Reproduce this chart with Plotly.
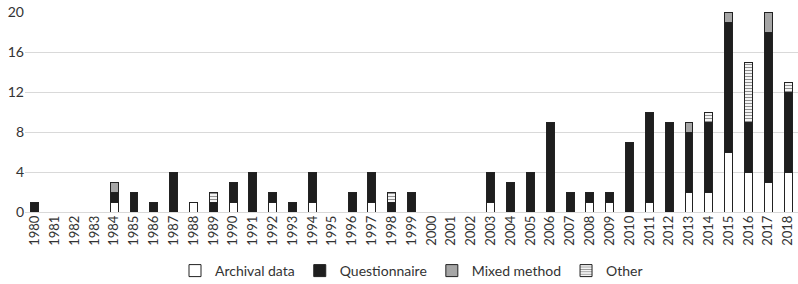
import plotly.graph_objects as go

years = [str(y) for y in range(1980, 2019)]
archival =      [0,0,0,0,1,0,0,0,1,0,1,0,1,0,1,0,0,1,0,0,0,0,0,1,0,0,0,0,1,1,0,1,0,2,2,6,4,3,4]
questionnaire = [1,0,0,0,1,2,1,4,0,1,2,4,1,1,3,0,2,3,1,2,0,0,0,3,3,4,9,2,1,1,7,9,9,6,7,13,5,15,8]
mixed =         [0,0,0,0,1,0,0,0,0,0,0,0,0,0,0,0,0,0,0,0,0,0,0,0,0,0,0,0,0,0,0,0,0,1,0,1,0,2,0]
other =         [0,0,0,0,0,0,0,0,0,1,0,0,0,0,0,0,0,0,1,0,0,0,0,0,0,0,0,0,0,0,0,0,0,0,1,0,6,0,1]
y_ticks = [0, 4, 8, 12, 16, 20]

line = dict(color="#222222", width=1)
fig = go.Figure()
fig.add_bar(x=years, y=archival, name="Archival data",
            marker=dict(color="white", line=line))
fig.add_bar(x=years, y=questionnaire, name="Questionnaire",
            marker=dict(color="#1e1e1e", line=line))
fig.add_bar(x=years, y=mixed, name="Mixed method",
            marker=dict(color="#a6a6a6", line=line))
fig.add_bar(x=years, y=other, name="Other",
            marker=dict(color="white", line=line,
                        pattern=dict(shape="-", fgcolor="#222222", bgcolor="white",
                                     size=3, solidity=0.4)))

fig.update_layout(
    barmode="stack", bargap=0.6,
    width=798, height=284,
    margin=dict(l=25, r=0, t=12, b=72, autoexpand=False),
    plot_bgcolor="white", paper_bgcolor="white",
    font=dict(family="Lato, Open Sans, sans-serif", size=13, color="#333333"),
    showlegend=True,
    legend=dict(orientation="h", x=0.5, xanchor="center", y=-0.215, yanchor="top",
                font=dict(size=14), traceorder="normal", itemwidth=30,
                tracegroupgap=0),
    xaxis=dict(tickangle=-90, showgrid=False, showline=False, ticks="",
               tickfont=dict(size=13), automargin=False),
    yaxis=dict(range=[0, 20], tickvals=y_ticks, showgrid=True, gridcolor="#d9d9d9",
               gridwidth=1, zeroline=True, zerolinecolor="#d9d9d9", zerolinewidth=1,
               ticks="", tickfont=dict(size=14), automargin=False),
)
fig.write_html("out.html", config={"displayModeBar": False},
               post_script="document.body.style.margin='0';document.body.style.overflow='hidden';")
